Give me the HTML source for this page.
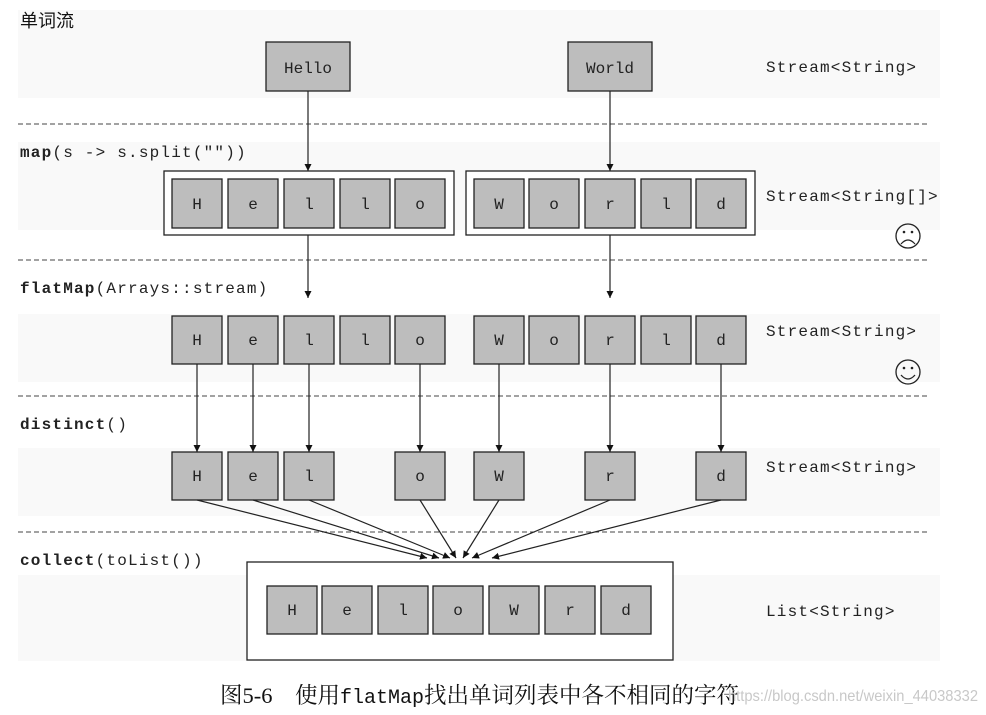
<!DOCTYPE html>
<html><head><meta charset="utf-8"><style>
body{margin:0;background:#fff;}
svg{display:block}
.m{font-family:"Liberation Mono",monospace;font-size:16px;letter-spacing:1.2px;fill:#222}
.c{font-family:"Liberation Mono",monospace;font-size:16px;fill:#222;text-anchor:middle}
.b{font-weight:bold}
</style></head><body>
<svg width="986" height="715" viewBox="0 0 986 715" xmlns="http://www.w3.org/2000/svg">
<defs><marker id="a" markerWidth="8" markerHeight="8" refX="7" refY="4" orient="auto" markerUnits="userSpaceOnUse"><path d="M0,0.5 L7,4 L0,7.5z" fill="#111"/></marker></defs>
<g fill="#f9f9f9">
<rect x="18" y="10" width="922" height="88"/>
<rect x="18" y="142" width="922" height="88"/>
<rect x="18" y="314" width="922" height="68"/>
<rect x="18" y="448" width="922" height="68"/>
<rect x="18" y="575" width="922" height="86"/>
</g>
<g stroke="#444" stroke-dasharray="5,3" stroke-width="1">
<line x1="18" y1="124" x2="928" y2="124"/><line x1="18" y1="260" x2="928" y2="260"/>
<line x1="18" y1="396" x2="928" y2="396"/><line x1="18" y1="532" x2="928" y2="532"/>
</g>
<text x="20" y="27" font-family="Liberation Sans,'Noto Sans CJK SC',sans-serif" font-size="18" fill="#111">单词流</text>
<text class="m" x="20" y="157"><tspan class="b">map</tspan>(s -&gt; s.split(""))</text>
<text class="m" x="20" y="293"><tspan class="b">flatMap</tspan>(Arrays::stream)</text>
<text class="m" x="20" y="429"><tspan class="b">distinct</tspan>()</text>
<text class="m" x="20" y="565"><tspan class="b">collect</tspan>(toList())</text>
<text class="m" x="766" y="72">Stream&lt;String&gt;</text>
<text class="m" x="766" y="201">Stream&lt;String[]&gt;</text>
<text class="m" x="766" y="336">Stream&lt;String&gt;</text>
<text class="m" x="766" y="472">Stream&lt;String&gt;</text>
<text class="m" x="766" y="616">List&lt;String&gt;</text>
<g fill="none" stroke="#222" stroke-width="1.3">
<circle cx="908" cy="236" r="12"/><circle cx="908" cy="372" r="12"/>
<path d="M901,244 Q908,236 915,244"/><path d="M901,375 Q908,383 915,375"/>
</g>
<g fill="#222"><circle cx="904" cy="232" r="1.3"/><circle cx="912" cy="232" r="1.3"/><circle cx="904" cy="368" r="1.3"/><circle cx="912" cy="368" r="1.3"/></g>
<g stroke="#222" fill="#bdbdbd" stroke-width="1.3">
<rect x="266" y="42" width="84" height="49"/><rect x="568" y="42" width="84" height="49"/>
<rect x="164" y="171" width="290" height="64" fill="#fff"/><rect x="466" y="171" width="289" height="64" fill="#fff"/>
<rect x="247" y="562" width="426" height="98" fill="#fff"/>
</g>
<text class="c" x="308" y="73">Hello</text><text class="c" x="610" y="73">World</text>
<g stroke="#222" fill="#bdbdbd" stroke-width="1.3">
<rect x="172" y="179" width="50" height="49"/><rect x="228" y="179" width="50" height="49"/><rect x="284" y="179" width="50" height="49"/><rect x="340" y="179" width="50" height="49"/><rect x="395" y="179" width="50" height="49"/>
<rect x="474" y="179" width="50" height="49"/><rect x="529" y="179" width="50" height="49"/><rect x="585" y="179" width="50" height="49"/><rect x="641" y="179" width="50" height="49"/><rect x="696" y="179" width="50" height="49"/>
<rect x="172" y="316" width="50" height="48"/><rect x="228" y="316" width="50" height="48"/><rect x="284" y="316" width="50" height="48"/><rect x="340" y="316" width="50" height="48"/><rect x="395" y="316" width="50" height="48"/>
<rect x="474" y="316" width="50" height="48"/><rect x="529" y="316" width="50" height="48"/><rect x="585" y="316" width="50" height="48"/><rect x="641" y="316" width="50" height="48"/><rect x="696" y="316" width="50" height="48"/>
<rect x="172" y="452" width="50" height="48"/><rect x="228" y="452" width="50" height="48"/><rect x="284" y="452" width="50" height="48"/><rect x="395" y="452" width="50" height="48"/><rect x="474" y="452" width="50" height="48"/><rect x="585" y="452" width="50" height="48"/><rect x="696" y="452" width="50" height="48"/>
<rect x="267" y="586" width="50" height="48"/><rect x="322" y="586" width="50" height="48"/><rect x="378" y="586" width="50" height="48"/><rect x="433" y="586" width="50" height="48"/><rect x="489" y="586" width="50" height="48"/><rect x="545" y="586" width="50" height="48"/><rect x="601" y="586" width="50" height="48"/>
</g>
<g>
<text class="c" x="197" y="209">H</text><text class="c" x="253" y="209">e</text><text class="c" x="309" y="209">l</text><text class="c" x="365" y="209">l</text><text class="c" x="420" y="209">o</text>
<text class="c" x="499" y="209">W</text><text class="c" x="554" y="209">o</text><text class="c" x="610" y="209">r</text><text class="c" x="666" y="209">l</text><text class="c" x="721" y="209">d</text>
<text class="c" x="197" y="345">H</text><text class="c" x="253" y="345">e</text><text class="c" x="309" y="345">l</text><text class="c" x="365" y="345">l</text><text class="c" x="420" y="345">o</text>
<text class="c" x="499" y="345">W</text><text class="c" x="554" y="345">o</text><text class="c" x="610" y="345">r</text><text class="c" x="666" y="345">l</text><text class="c" x="721" y="345">d</text>
<text class="c" x="197" y="481">H</text><text class="c" x="253" y="481">e</text><text class="c" x="309" y="481">l</text><text class="c" x="420" y="481">o</text><text class="c" x="499" y="481">W</text><text class="c" x="610" y="481">r</text><text class="c" x="721" y="481">d</text>
<text class="c" x="292" y="615">H</text><text class="c" x="347" y="615">e</text><text class="c" x="403" y="615">l</text><text class="c" x="458" y="615">o</text><text class="c" x="514" y="615">W</text><text class="c" x="570" y="615">r</text><text class="c" x="626" y="615">d</text>
</g>
<g stroke="#222" stroke-width="1.2" marker-end="url(#a)">
<line x1="308" y1="91" x2="308" y2="171"/><line x1="610" y1="91" x2="610" y2="171"/>
<line x1="308" y1="235" x2="308" y2="298"/><line x1="610" y1="235" x2="610" y2="298"/>
<line x1="197" y1="364" x2="197" y2="452"/><line x1="253" y1="364" x2="253" y2="452"/><line x1="309" y1="364" x2="309" y2="452"/><line x1="420" y1="364" x2="420" y2="452"/><line x1="499" y1="364" x2="499" y2="452"/><line x1="610" y1="364" x2="610" y2="452"/><line x1="721" y1="364" x2="721" y2="452"/>
<line x1="197" y1="500" x2="427" y2="558"/><line x1="253" y1="500" x2="439" y2="558"/><line x1="309" y1="500" x2="450" y2="558"/><line x1="420" y1="500" x2="456" y2="558"/><line x1="499" y1="500" x2="463" y2="558"/><line x1="610" y1="500" x2="472" y2="558"/><line x1="721" y1="500" x2="492" y2="558"/>
</g>
<text x="220" y="703" font-family="'Liberation Serif','Noto Serif CJK SC',serif" font-size="22.5" fill="#111">图5-6　使用<tspan font-family="Liberation Mono,monospace" font-size="20">flatMap</tspan>找出单词列表中各不相同的字符</text>
<text x="728" y="701" font-family="Liberation Sans,sans-serif" font-size="16" fill="#c8c8c8" textLength="250" lengthAdjust="spacingAndGlyphs">https://blog.csdn.net/weixin_44038332</text>
</svg>
</body></html>
